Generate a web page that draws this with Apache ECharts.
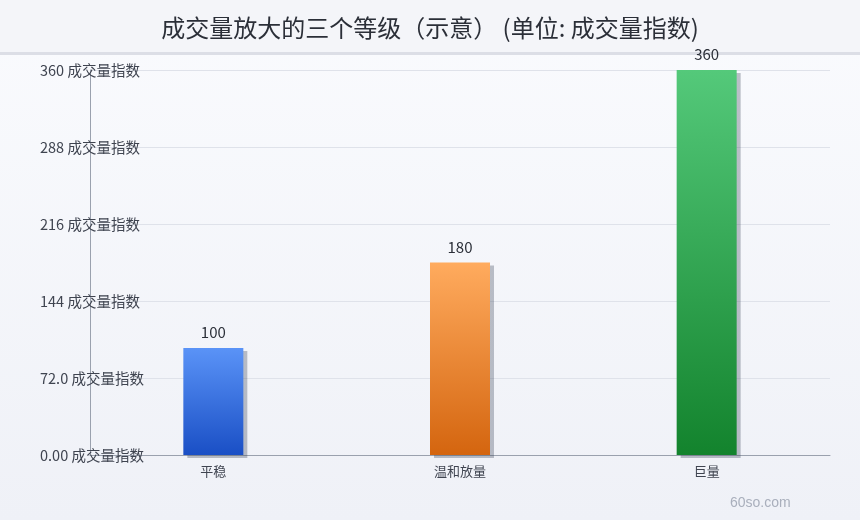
<!DOCTYPE html>
<html>
<head>
<meta charset="utf-8">
<script src="https://cdn.jsdelivr.net/npm/echarts@6/dist/echarts.min.js"></script>
<style>
  html, body { margin: 0; padding: 0; }
  #chart { width: 860px; height: 520px; }
</style>
</head>
<body>
<div id="chart"></div>
<script>
// categories and values
const categories = ['平稳', '温和放量', '巨量'];
const volumeIndex = [100, 180, 360];
const unitName = '成交量指数';
const yMax = 360;
const yStep = 72;

// bar colours: top, bottom
const barColors = [
  ['#5a93f7', '#1a4fc5'],
  ['#ffab5e', '#d4650f'],
  ['#54c97a', '#13832d'],
];

const chartDom = document.getElementById('chart');
const chart = echarts.init(chartDom);

const grad = (top, bottom) => ({
  type: 'linear', x: 0, y: 0, x2: 0, y2: 1,
  colorStops: [
    {offset: 0, color: top},
    {offset: 1, color: bottom},
  ],
});

const options = {
  backgroundColor: grad('#fafbfe', '#eff1f7'),
  textStyle: {fontFamily: '"Noto Sans CJK SC", "Noto Sans", sans-serif'},
  title: {
    text: '成交量放大的三个等级（示意） (单位: ' + unitName + ')',
    left: 'center',
    top: 11,
    textStyle: {fontSize: 24, fontWeight: 'normal', color: '#2b2f38'},
  },
  graphic: [
    {
      type: 'rect', z: -1, silent: true,
      shape: {x: 0, y: 0, width: 860, height: 52},
      style: {fill: '#f4f5f9'},
    },
    {
      type: 'rect', z: -1, silent: true,
      shape: {x: 0, y: 52, width: 860, height: 3},
      style: {fill: '#dcdee6'},
    },
    {
      type: 'text',
      left: 730, top: 496,
      style: {text: '60so.com', fontSize: 14, fill: '#a9afbc',
        font: '14px "Noto Sans", sans-serif'},
    },
  ],
  grid: {left: 90, right: 30, top: 70, bottom: 65, containLabel: false},
  xAxis: {
    type: 'category',
    data: categories,
    axisLine: {show: true, lineStyle: {color: '#9aa1ae', width: 1}},
    axisTick: {show: false},
    axisLabel: {color: '#3f4450', fontSize: 13, margin: 10},
  },
  yAxis: {
    type: 'value',
    min: 0,
    max: yMax,
    interval: yStep,
    axisLine: {show: true, lineStyle: {color: '#9aa1ae', width: 1}},
    axisTick: {show: false},
    splitLine: {lineStyle: {color: '#dfe2ea', width: 1}},
    axisLabel: {
      color: '#3f4450',
      fontSize: 14.5,
      align: 'left',
      margin: 50,
      formatter: (v) => v.toPrecision(3) + ' ' + unitName,
    },
  },
  series: [
    {
      type: 'bar',
      barWidth: 60,
      data: volumeIndex.map((v, i) => ({
        value: v,
        itemStyle: {
          color: grad(barColors[i][0], barColors[i][1]),
          shadowColor: 'rgba(60,70,90,0.33)',
          shadowOffsetX: 4,
          shadowOffsetY: 3,
          shadowBlur: 0,
        },
      })),
      label: {
        show: true,
        position: 'top',
        distance: 8,
        fontSize: 15,
        color: '#2b2f38',
      },
    },
  ],
};

chart.setOption(options);
window.addEventListener('resize', chart.resize);
</script>
</body>
</html>
